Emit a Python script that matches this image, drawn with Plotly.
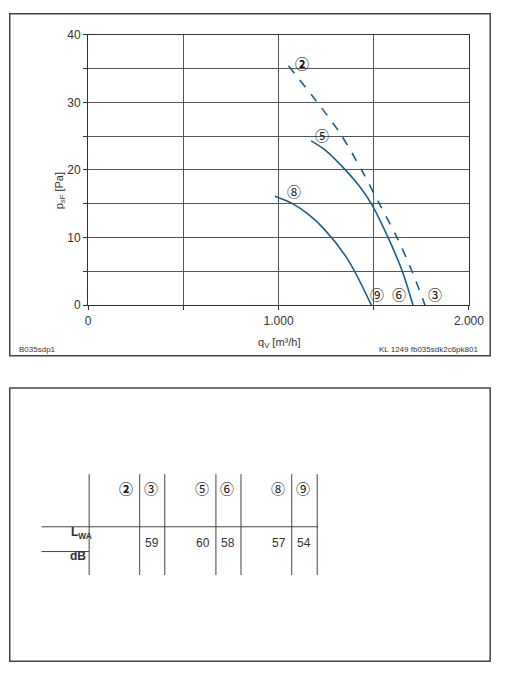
import plotly.graph_objects as go

W, H = 510, 680

# ---------------- data ----------------
curve2_q = [1052, 1220, 1326, 1436, 1529, 1622, 1701, 1769]
curve2_p = [35.4, 29.4, 25.3, 20.0, 15.0, 10.0, 5.0, 0]
curve5_q = [1171, 1242, 1351, 1427, 1487, 1575, 1650, 1706]
curve5_p = [24.3, 23.0, 20.0, 17.5, 15.0, 10.0, 5.0, 0]
curve8_q = [980, 1073, 1157, 1241, 1360, 1487]
curve8_p = [16.1, 15.0, 13.4, 11.2, 6.9, 0]

point_labels = ["②", "⑤", "⑧", "⑨", "⑥", "③"]
point_label_q = [1123, 1230, 1081, 1515, 1630, 1821]
point_label_p = [35.8, 25.1, 16.9, 1.6, 1.6, 1.6]

x_tickvals = [0, 500, 1000, 1500, 2000]
x_ticktext = ["0", "", "1.000", "", "2.000"]
y_tickvals = [0, 5, 10, 15, 20, 25, 30, 35, 40]
y_ticktext = ["0", "", "10", "", "20", "", "30", "", "40"]

table_labels = ["②", "③", "⑤", "⑥", "⑧", "⑨"]
lwa_values = [None, 59, 60, 58, 57, 54]

# ---------------- helpers ----------------
def px(x):
    return x / W

def py(y):
    return 1 - y / H

BLUE = "#1b5e8c"
TXT = "#333333"
FONT = "Liberation Sans, Arial, sans-serif"
CIRC_FONT = "Noto Sans CJK JP, DejaVu Sans, sans-serif"

fig = go.Figure()
fig.add_trace(go.Scatter(x=curve2_q, y=curve2_p, mode="lines",
                         line=dict(color=BLUE, width=1.6, dash="dash", shape="spline", smoothing=0.8),
                         showlegend=False, hoverinfo="skip"))
fig.add_trace(go.Scatter(x=curve5_q, y=curve5_p, mode="lines",
                         line=dict(color=BLUE, width=1.6, shape="spline", smoothing=0.8),
                         showlegend=False, hoverinfo="skip"))
fig.add_trace(go.Scatter(x=curve8_q, y=curve8_p, mode="lines",
                         line=dict(color=BLUE, width=1.6, shape="spline", smoothing=1.0),
                         showlegend=False, hoverinfo="skip"))

annotations = []
for lab, q, p in zip(point_labels, point_label_q, point_label_p):
    bold = lab == "②"
    annotations.append(dict(x=q, y=p, xref="x", yref="y", text=f"<b>{lab}</b>" if bold else lab,
                            showarrow=False, font=dict(family=CIRC_FONT, size=14, color="#111")))

# axis titles
annotations.append(dict(x=px(50), y=py(167), xref="paper", yref="paper",
                        text="p<sub>sF</sub> [Pa]", textangle=-90, showarrow=False,
                        font=dict(family=FONT, size=11, color=TXT)))
annotations.append(dict(x=px(286), y=py(343), xref="paper", yref="paper",
                        text="q<sub>V</sub> [m³/h]", showarrow=False,
                        font=dict(family=FONT, size=11, color=TXT)))
# notes
annotations.append(dict(x=px(15), y=py(350), xref="paper", yref="paper", xanchor="left",
                        text="B035sdp1", showarrow=False,
                        font=dict(family=FONT, size=8, color=TXT)))
annotations.append(dict(x=px(494), y=py(350), xref="paper", yref="paper", xanchor="right",
                        text="KL 1249 fb035sdk2c6pk801", showarrow=False,
                        font=dict(family=FONT, size=8, color=TXT)))

# ---------------- table ----------------
col_edges = [89.3, 141.7, 167.7, 220.7, 246.7, 299.3, 325.7]
shapes = []
shapes.append(dict(type="rect", xref="paper", yref="paper", x0=px(7), x1=px(505), y0=py(7), y1=py(356),
                   line=dict(color="#444", width=1.5)))
shapes.append(dict(type="rect", xref="paper", yref="paper", x0=px(7), x1=px(505), y0=py(389), y1=py(668),
                   line=dict(color="#444", width=1.5)))
for xe in col_edges:
    shapes.append(dict(type="line", xref="paper", yref="paper", x0=px(xe), x1=px(xe),
                       y0=py(477), y1=py(580), line=dict(color="#444", width=1)))
shapes.append(dict(type="line", xref="paper", yref="paper", x0=px(40), x1=px(326.7),
                   y0=py(530.7), y1=py(530.7), line=dict(color="#444", width=1)))
shapes.append(dict(type="line", xref="paper", yref="paper", x0=px(40), x1=px(89.3),
                   y0=py(556), y1=py(556), line=dict(color="#444", width=1)))

for i, (lab, val) in enumerate(zip(table_labels, lwa_values)):
    xr = col_edges[i + 1] - 5
    bold = lab == "②"
    annotations.append(dict(x=px(xr), y=py(503), xref="paper", yref="paper", xanchor="right",
                            text=f"<b>{lab}</b>" if bold else lab, showarrow=False,
                            font=dict(family=CIRC_FONT, size=14, color="#111")))
    if val is not None:
        annotations.append(dict(x=px(xr + 1), y=py(556), xref="paper", yref="paper", xanchor="right",
                                text=str(val), showarrow=False,
                                font=dict(family=FONT, size=12, color=TXT)))
annotations.append(dict(x=px(68), y=py(547), xref="paper", yref="paper",
                        text="<b>L<sub>WA</sub></b>", showarrow=False,
                        font=dict(family=FONT, size=12, color=TXT)))
annotations.append(dict(x=px(67), y=py(570), xref="paper", yref="paper",
                        text="<b>dB</b>", showarrow=False,
                        font=dict(family=FONT, size=12, color=TXT)))

axis_common = dict(showgrid=True, gridcolor="#555", gridwidth=1, showline=True, linecolor="#333",
                   linewidth=1.2, mirror=True, ticks="outside", ticklen=4, tickcolor="#333",
                   zeroline=False, tickfont=dict(family=FONT, size=12, color=TXT))

fig.update_layout(
    width=W, height=H, margin=dict(l=0, r=0, t=0, b=0),
    paper_bgcolor="white", plot_bgcolor="white",
    xaxis=dict(range=[0, 2000], domain=[px(88.3), px(483)], tickmode="array",
               tickvals=x_tickvals, ticktext=x_ticktext, **axis_common),
    yaxis=dict(range=[0, 40], domain=[py(304.3), py(28.3)], tickmode="array",
               tickvals=y_tickvals, ticktext=y_ticktext, **axis_common),
    shapes=shapes, annotations=annotations,
)

fig.write_html(
    "out.html",
    config={"displayModeBar": False, "responsive": False},
    post_script=("var s=document.documentElement.style;s.margin='0';s.padding='0';s.overflow='hidden';"
                 "var b=document.body.style;b.margin='0';b.padding='0';b.overflow='hidden';"),
)
